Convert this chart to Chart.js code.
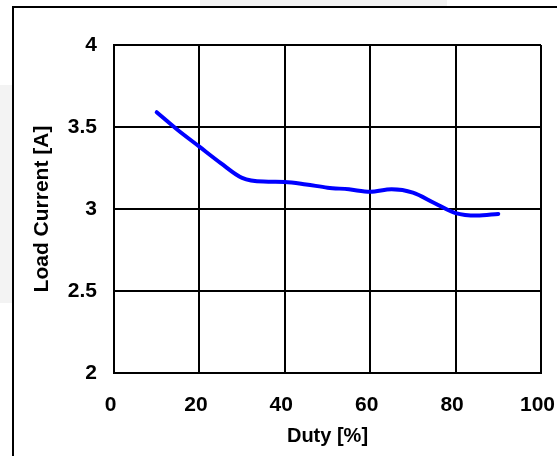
<!DOCTYPE html>
<html>
<head>
<meta charset="utf-8">
<script src="https://cdn.jsdelivr.net/npm/chart.js@4/dist/chart.umd.min.js"></script>
<style>
  html, body { margin: 0; padding: 0; background: #ffffff; }
  #wrap { position: relative; width: 557px; height: 456px; overflow: hidden; }
  .patch { position: absolute; background: #f3f3f3; }
  .frame { position: absolute; background: #000000; }
  #chartBox { position: absolute; left: 0; top: 0; width: 557px; height: 456px; }
</style>
</head>
<body>
<div id="wrap">
  <div class="patch" style="left:200px; top:0; width:247px; height:6px;"></div>
  <div class="patch" style="left:0; top:85px; width:12px; height:218px;"></div>
  <div class="frame" style="left:12px; top:6px; width:545px; height:2px;"></div>
  <div class="frame" style="left:12px; top:6px; width:2px; height:450px;"></div>
  <div id="chartBox"><canvas id="loadChart"></canvas></div>
</div>
<script>
// ====== DADOS ======
const dutyValues = [10, 15, 20, 25, 30, 35, 40, 45, 50, 55, 60, 65, 70, 75, 80, 85, 90];
const loadCurrent = [3.59, 3.48, 3.38, 3.28, 3.19, 3.167, 3.165, 3.15, 3.13, 3.12, 3.105, 3.12, 3.10, 3.037, 2.975, 2.96, 2.97];
const xTickLabels = ['0', '20', '40', '60', '80', '100'];
const yTickLabels = ['2', '2.5', '3', '3.5', '4'];

const FONT = 'Liberation Sans, Arial, sans-serif';

// ====== AREA DO GRAFICO FIXA ======
const AREA = { left: 114, top: 45, right: 541, bottom: 373 };
const PAD = { left: 20, top: AREA.top, right: 557 - AREA.right, bottom: 8 };

function noScalePadding(scale) {
  scale.paddingLeft = 0;
  scale.paddingRight = 0;
  scale.paddingTop = 0;
  scale.paddingBottom = 0;
}

const points = dutyValues.map((d, i) => ({ x: d, y: loadCurrent[i] }));

new Chart(document.getElementById('loadChart'), {
  type: 'line',
  data: {
    datasets: [{
      data: points,
      borderColor: '#0000ff',
      borderWidth: 4,
      borderCapStyle: 'round',
      borderJoinStyle: 'round',
      pointRadius: 0,
      fill: false,
      cubicInterpolationMode: 'monotone'
    }]
  },
  options: {
    responsive: true,
    maintainAspectRatio: false,
    animation: false,
    layout: { padding: PAD },
    plugins: {
      legend: { display: false },
      tooltip: { enabled: false }
    },
    scales: {
      x: {
        type: 'linear',
        min: 0,
        max: 100,
        afterFit: (scale) => {
          scale.height = 456 - PAD.bottom - AREA.bottom;
          noScalePadding(scale);
        },
        afterBuildTicks: (scale) => {
          scale.ticks = xTickLabels.map(t => ({ value: Number(t) }));
        },
        ticks: {
          autoSkip: false,
          maxRotation: 0,
          padding: 20,
          labelOffset: -3.5,
          color: '#000000',
          font: { family: FONT, size: 21, weight: 'bold' },
          callback: (value, index) => xTickLabels[index]
        },
        grid: { color: '#000000', lineWidth: 2, drawTicks: false },
        border: { color: '#000000', width: 2 },
        title: {
          display: true,
          text: 'Duty [%]',
          color: '#000000',
          padding: 0,
          font: { family: FONT, size: 20, weight: 'bold' }
        }
      },
      y: {
        type: 'linear',
        min: 2,
        max: 4,
        afterFit: (scale) => {
          scale.width = AREA.left - PAD.left;
          noScalePadding(scale);
        },
        afterBuildTicks: (scale) => {
          scale.ticks = yTickLabels.map(t => ({ value: Number(t) }));
        },
        ticks: {
          autoSkip: false,
          padding: 17,
          color: '#000000',
          font: { family: FONT, size: 21, weight: 'bold' },
          callback: (value, index) => yTickLabels[index]
        },
        grid: { color: '#000000', lineWidth: 2, drawTicks: false },
        border: { color: '#000000', width: 2 },
        title: {
          display: true,
          text: 'Load Current [A]',
          color: '#000000',
          padding: { top: 10, bottom: 0 },
          font: { family: FONT, size: 21, weight: 'bold' }
        }
      }
    }
  }
});
</script>
</body>
</html>
